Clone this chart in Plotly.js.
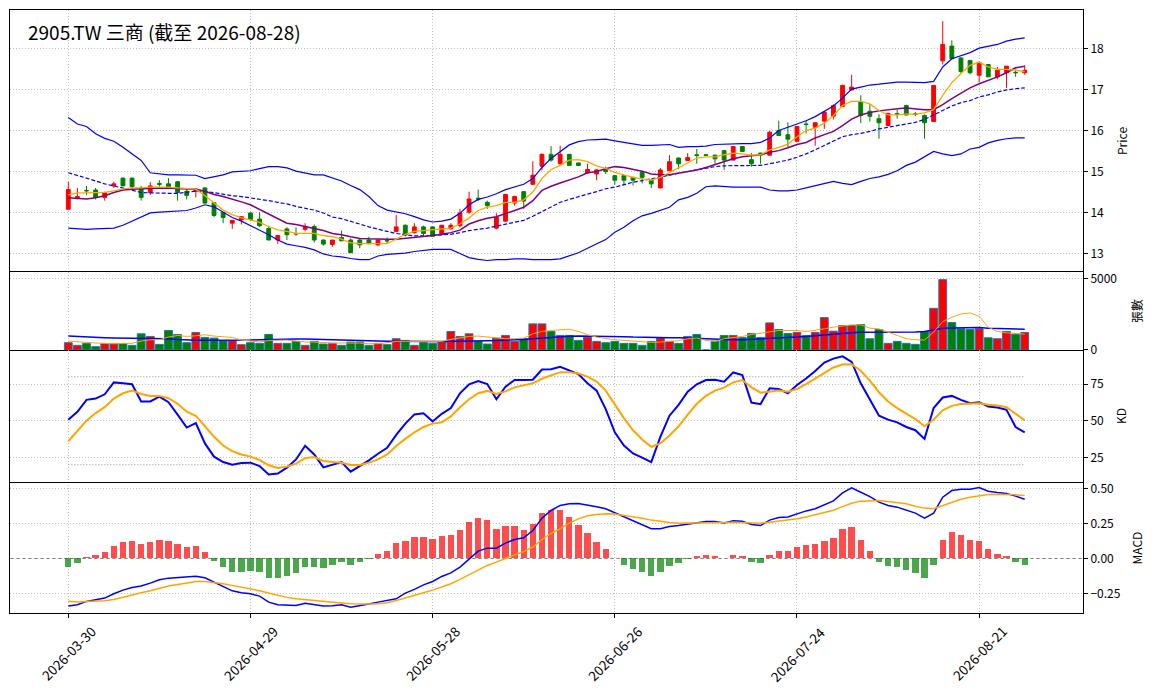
<!DOCTYPE html>
<html>
<head>
<meta charset="utf-8">
<script src="https://cdn.plot.ly/plotly-3.0.1.min.js"></script>
<style>
  html, body { margin: 0; padding: 0; background: #fff; }
  #chart { width: 1157px; height: 698px; }
</style>
</head>
<body>
<div id="chart"></div>
<script>
const TITLE = '2905.TW 三商 (截至 2026-08-28)';
const TICK_IDX = [0, 20, 40, 60, 80, 100];
const TICK_TEXT = ['2026-03-30', '2026-04-29', '2026-05-28', '2026-06-26', '2026-07-24', '2026-08-21'];
const PANEL_TITLES = ['Price', '張數', 'KD', 'MACD'];

// OHLC, one value per trading day
const OPEN = [14.09,14.37,14.55,14.56,14.38,14.66,14.85,14.85,14.61,14.50,14.72,14.71,14.76,14.53,14.53,14.61,14.25,14.01,13.75,13.83,
  14.00,13.85,13.62,13.34,13.61,13.50,13.60,13.67,13.34,13.23,13.40,13.34,13.34,13.34,13.22,13.33,13.55,13.70,13.52,13.66,
  13.66,13.48,13.61,13.69,14.02,14.36,14.26,13.63,13.80,14.24,14.52,14.70,15.14,15.43,15.20,15.43,15.22,14.98,14.95,15.07,
  14.91,14.91,14.87,14.99,14.80,14.61,15.03,15.34,15.28,15.42,15.42,15.41,15.52,15.29,15.62,15.30,15.46,15.41,16.01,15.91,
  15.75,16.17,16.09,16.24,16.36,16.60,17.00,16.71,16.48,16.30,16.13,16.42,16.62,16.42,16.38,16.23,17.71,18.07,17.78,17.72,
  17.36,17.62,17.32,17.42,17.43,17.42];
const HIGH = [14.76,14.61,14.66,14.61,14.52,14.76,14.86,14.86,14.66,14.76,14.80,14.85,14.78,14.58,14.60,14.62,14.26,14.02,13.83,13.92,
  14.01,14.02,13.69,13.45,13.65,13.65,13.75,13.72,13.35,13.34,13.57,13.38,13.36,13.42,13.34,13.40,13.95,13.72,13.75,13.69,
  13.67,13.70,13.75,14.10,14.52,14.57,14.30,13.99,14.47,14.42,14.53,15.26,15.45,15.63,15.64,15.44,15.23,15.20,15.07,15.13,
  14.93,14.92,14.88,15.00,14.81,15.10,15.41,15.35,15.46,15.56,15.43,15.42,15.53,15.63,15.63,15.46,15.47,16.00,16.25,16.21,
  16.12,16.25,16.21,16.47,16.65,17.13,17.37,16.87,16.66,16.41,16.44,16.52,16.64,16.46,16.40,17.11,18.68,18.21,17.80,17.73,
  17.67,17.63,17.56,17.58,17.50,17.60];
const LOW = [14.09,14.33,14.44,14.33,14.30,14.61,14.66,14.58,14.30,14.44,14.64,14.58,14.30,14.33,14.38,14.24,13.90,13.75,13.61,13.72,
  13.80,13.66,13.34,13.24,13.34,13.44,13.55,13.28,13.20,13.18,13.32,13.03,13.14,13.25,13.20,13.25,13.53,13.43,13.50,13.45,
  13.43,13.46,13.60,13.65,13.98,14.29,14.10,13.60,13.78,14.18,14.10,14.68,15.04,15.25,15.18,15.15,15.14,14.96,14.80,14.95,
  14.69,14.67,14.67,14.72,14.61,14.60,15.02,15.07,15.27,15.20,15.40,15.20,15.05,15.28,15.49,15.13,15.20,15.40,15.88,15.60,
  15.74,15.94,15.64,16.05,16.28,16.59,16.99,16.19,16.23,15.81,16.12,16.30,16.38,16.36,15.81,16.22,17.62,17.75,17.40,17.38,
  17.19,17.32,17.26,17.05,17.32,17.37];
const CLOSE = [14.57,14.40,14.54,14.38,14.50,14.71,14.66,14.64,14.38,14.66,14.70,14.61,14.50,14.43,14.58,14.24,13.94,13.89,13.82,13.91,
  13.84,13.69,13.34,13.45,13.47,13.49,13.67,13.34,13.24,13.34,13.32,13.03,13.22,13.25,13.34,13.32,13.66,13.46,13.66,13.50,
  13.43,13.70,13.70,14.00,14.34,14.34,14.18,13.89,14.45,14.40,14.29,14.92,15.43,15.29,15.43,15.16,15.16,15.06,15.05,15.01,
  14.80,14.80,14.80,14.87,14.71,15.05,15.25,15.20,15.35,15.40,15.41,15.32,15.29,15.62,15.50,15.20,15.41,15.97,15.89,15.80,
  16.11,16.16,16.20,16.46,16.62,17.11,17.07,16.38,16.36,16.20,16.43,16.41,16.39,16.41,16.20,17.11,18.11,17.76,17.45,17.42,
  17.67,17.32,17.48,17.58,17.42,17.48];

// price overlays
const MA5 = [14.44,14.49,14.49,14.50,14.50,14.54,14.59,14.61,14.61,14.63,14.63,14.63,14.61,14.60,14.58,14.42,14.24,14.07,13.96,13.88,
  13.83,13.77,13.67,13.59,13.55,13.50,13.50,13.50,13.45,13.42,13.36,13.27,13.25,13.25,13.25,13.25,13.36,13.48,13.55,13.57,
  13.58,13.60,13.63,13.73,13.88,14.06,14.14,14.18,14.26,14.26,14.32,14.51,14.84,15.06,15.16,15.29,15.30,15.25,15.15,15.09,
  14.99,14.93,14.87,14.83,14.80,14.87,14.99,15.11,15.24,15.34,15.37,15.37,15.42,15.46,15.44,15.41,15.42,15.54,15.60,15.68,
  15.86,16.01,16.07,16.19,16.37,16.62,16.72,16.72,16.66,16.50,16.39,16.39,16.41,16.41,16.44,16.52,16.87,17.18,17.40,17.60,
  17.68,17.56,17.50,17.50,17.48,17.45];
const MA10 = [14.37,14.35,14.34,14.37,14.42,14.50,14.56,14.58,14.59,14.60,14.61,14.60,14.59,14.58,14.58,14.53,14.45,14.40,14.34,14.27,
  14.20,14.09,13.98,13.86,13.75,13.72,13.67,13.61,13.57,13.50,13.47,13.42,13.38,13.37,13.36,13.36,13.36,13.38,13.40,13.43,
  13.45,13.48,13.52,13.58,13.73,13.81,13.87,13.91,13.98,14.06,14.14,14.30,14.55,14.65,14.73,14.80,14.88,14.98,15.01,15.08,
  15.13,15.11,15.07,15.02,14.95,14.93,14.93,14.97,15.00,15.05,15.11,15.18,15.26,15.32,15.37,15.39,15.42,15.48,15.52,15.59,
  15.67,15.72,15.83,15.91,15.99,16.13,16.29,16.39,16.45,16.49,16.52,16.54,16.56,16.54,16.52,16.52,16.64,16.79,16.93,17.05,
  17.15,17.23,17.32,17.42,17.54,17.58];
const BB_UP = [16.33,16.17,16.11,15.93,15.82,15.75,15.60,15.44,15.28,14.98,14.95,14.93,14.93,14.93,14.92,14.84,14.89,14.93,15.00,15.02,
  15.03,15.08,15.13,15.13,15.10,15.02,14.98,14.93,14.93,14.85,14.78,14.67,14.57,14.40,14.18,14.07,14.02,13.98,13.91,13.83,
  13.78,13.80,13.85,13.99,14.20,14.33,14.39,14.47,14.57,14.63,14.70,14.84,15.11,15.33,15.49,15.66,15.74,15.78,15.79,15.80,
  15.76,15.72,15.68,15.65,15.65,15.66,15.67,15.60,15.62,15.62,15.63,15.67,15.68,15.69,15.69,15.69,15.72,15.83,16.01,16.09,
  16.17,16.25,16.35,16.48,16.61,16.80,17.02,17.07,17.12,17.14,17.16,17.19,17.19,17.19,17.18,17.21,17.56,17.76,17.83,17.91,
  18.02,18.07,18.11,18.19,18.24,18.27];
const BB_MID = [14.98,14.92,14.85,14.78,14.71,14.66,14.61,14.56,14.50,14.49,14.48,14.48,14.48,14.50,14.53,14.53,14.49,14.46,14.42,14.40,
  14.37,14.33,14.30,14.26,14.22,14.16,14.12,14.07,14.00,13.90,13.86,13.80,13.73,13.66,13.60,13.55,13.50,13.47,13.44,13.44,
  13.45,13.46,13.48,13.52,13.57,13.60,13.63,13.68,13.73,13.78,13.82,13.92,14.04,14.15,14.26,14.33,14.40,14.46,14.52,14.59,
  14.63,14.69,14.75,14.79,14.83,14.88,14.92,14.97,15.01,15.05,15.10,15.13,15.15,15.15,15.15,15.15,15.16,15.20,15.24,15.29,
  15.36,15.44,15.54,15.64,15.76,15.86,15.91,15.94,15.99,16.05,16.09,16.13,16.17,16.21,16.28,16.39,16.50,16.61,16.69,16.74,
  16.83,16.88,16.95,17.00,17.03,17.05];
const BB_LOW = [13.63,13.62,13.60,13.61,13.62,13.63,13.70,13.80,13.89,14.00,14.02,14.03,14.05,14.06,14.12,14.20,14.15,14.02,13.89,13.80,
  13.69,13.59,13.47,13.34,13.24,13.20,13.16,13.10,13.00,12.95,12.93,12.89,12.86,12.86,12.95,12.99,13.01,13.02,13.06,13.09,
  13.11,13.11,13.11,13.01,12.91,12.87,12.84,12.86,12.86,12.88,12.88,12.86,12.86,12.86,12.88,12.95,13.03,13.14,13.24,13.35,
  13.53,13.65,13.81,13.93,13.99,14.06,14.14,14.32,14.38,14.48,14.64,14.66,14.64,14.63,14.63,14.63,14.63,14.56,14.54,14.54,
  14.56,14.61,14.66,14.71,14.77,14.72,14.69,14.77,14.84,14.88,14.94,15.03,15.16,15.24,15.36,15.50,15.44,15.40,15.44,15.56,
  15.60,15.71,15.77,15.81,15.83,15.83];

// volume (張) and its averages
const VOL = [512,326,465,233,442,442,442,326,1140,953,395,1372,1093,512,1233,884,837,651,651,372,
  512,465,1093,465,465,605,326,605,419,465,326,558,558,326,465,372,791,674,326,512,
  465,558,1302,953,1140,605,419,837,1023,605,791,1837,1837,1302,1023,1023,674,907,605,512,
  605,465,465,326,605,860,605,465,953,1093,0,628,1023,1023,884,1163,884,1907,1442,1163,
  1233,1023,1233,2279,1326,1721,1721,1791,791,1442,465,605,465,395,1302,2930,4953,1930,1488,1442,
  1488,860,791,1302,1116,1233];
const VOL_MA5 = [628,605,535,488,442,442,465,465,628,721,721,907,1023,953,1000,1070,977,907,884,698,
  605,558,674,674,698,628,558,558,512,488,488,512,488,442,442,512,605,605,605,558,
  558,605,744,837,953,977,907,837,791,791,837,1140,1302,1372,1419,1465,1302,1070,907,791,
  721,674,628,558,535,558,605,651,791,837,674,605,791,860,953,1093,1186,1302,1372,1372,
  1372,1302,1372,1488,1605,1674,1767,1767,1535,1488,1256,977,791,721,698,1256,2000,2302,2535,2605,
  2372,1605,1302,1209,1140,1116];
const VOL_MA20 = [977,940,907,880,860,845,837,837,837,837,814,791,744,698,690,680,674,674,680,690,
  698,720,744,755,767,767,767,744,721,698,674,660,651,640,628,615,605,593,581,593,
  605,605,605,615,628,640,651,662,674,710,744,790,837,884,953,965,977,977,977,977,
  960,930,905,884,877,870,865,860,830,800,767,745,721,721,721,745,767,790,814,860,
  907,950,977,1050,1110,1186,1220,1256,1256,1256,1256,1245,1233,1260,1302,1420,1535,1545,1558,1570,
  1581,1535,1510,1488,1475,1465];

// KD
const K = [50.7,56.1,64.2,65.1,68.0,76.1,75.5,74.8,63.1,63.1,66.4,62.6,54.1,45.3,48.4,34.5,25.5,21.8,20.0,21.2,
  21.4,19.1,13.3,14.0,18.0,23.6,32.9,27.0,18.2,19.8,21.8,15.3,19.1,23.0,27.5,31.5,40.3,48.0,54.3,55.0,
  49.5,54.7,58.6,68.7,74.8,77.0,75.0,64.6,73.2,77.7,77.7,77.9,84.9,85.1,86.7,84.0,81.8,75.5,70.5,57.9,
  42.1,33.1,27.7,24.8,21.8,39.0,53.4,60.8,69.8,74.8,77.7,77.9,76.6,82.9,81.1,62.4,61.3,72.1,71.6,68.7,
  74.3,78.8,83.8,89.6,92.3,93.9,90.1,75.5,64.2,53.4,50.7,48.9,45.7,43.5,37.6,58.6,65.8,66.9,64.2,61.9,
  62.6,59.7,59.0,57.4,45.7,42.1];
const D = [36.0,42.8,50.0,55.2,59.2,65.1,68.7,70.5,68.2,66.9,66.9,65.3,61.5,56.1,53.4,46.2,39.0,33.1,29.3,27.0,
  25.5,23.2,19.6,17.8,18.7,20.7,24.5,25.2,22.5,21.8,21.4,19.8,19.8,21.4,23.6,27.0,32.7,37.6,42.1,45.7,
  48.0,48.9,52.9,59.2,64.6,68.7,70.3,68.2,70.0,72.7,74.3,75.5,78.6,81.1,83.1,83.1,82.2,80.0,76.6,70.5,
  60.8,51.8,43.5,37.2,32.2,34.5,39.9,46.2,54.1,61.5,66.9,70.5,72.5,76.1,77.7,72.7,69.1,69.8,70.5,69.8,
  71.6,75.0,78.8,82.7,86.3,88.3,88.5,84.0,77.3,69.4,63.1,58.6,54.7,51.1,46.2,50.7,57.0,60.1,61.3,61.5,
  61.9,60.8,60.4,59.2,54.7,50.2];
const KD_LEVELS = [20, 80];

// MACD
const DIF = [-0.341,-0.332,-0.308,-0.298,-0.284,-0.253,-0.227,-0.208,-0.198,-0.177,-0.153,-0.141,-0.136,-0.136,-0.127,-0.138,-0.170,-0.205,-0.232,-0.246,
  -0.253,-0.270,-0.313,-0.332,-0.337,-0.337,-0.322,-0.332,-0.341,-0.339,-0.332,-0.349,-0.339,-0.327,-0.313,-0.303,-0.289,-0.248,-0.222,-0.189,
  -0.165,-0.129,-0.103,-0.062,-0.002,0.053,0.074,0.074,0.110,0.136,0.148,0.200,0.289,0.344,0.380,0.392,0.394,0.384,0.370,0.356,
  0.327,0.298,0.272,0.241,0.213,0.213,0.229,0.236,0.246,0.260,0.265,0.265,0.255,0.270,0.267,0.244,0.236,0.275,0.294,0.298,
  0.320,0.341,0.356,0.384,0.413,0.470,0.506,0.475,0.444,0.404,0.380,0.368,0.346,0.325,0.289,0.325,0.439,0.487,0.497,0.497,
  0.509,0.482,0.473,0.466,0.447,0.425];
const DEA = [-0.306,-0.313,-0.308,-0.308,-0.303,-0.294,-0.277,-0.260,-0.246,-0.232,-0.213,-0.198,-0.186,-0.174,-0.165,-0.165,-0.172,-0.181,-0.193,-0.205,
  -0.217,-0.232,-0.248,-0.265,-0.279,-0.289,-0.296,-0.303,-0.310,-0.315,-0.320,-0.325,-0.327,-0.327,-0.325,-0.318,-0.301,-0.284,-0.265,-0.246,
  -0.227,-0.203,-0.181,-0.150,-0.117,-0.079,-0.050,-0.026,0.002,0.026,0.050,0.081,0.136,0.179,0.213,0.253,0.284,0.306,0.315,0.320,
  0.318,0.310,0.301,0.289,0.275,0.265,0.258,0.253,0.253,0.255,0.255,0.258,0.258,0.260,0.258,0.253,0.253,0.260,0.267,0.275,
  0.284,0.298,0.313,0.327,0.346,0.372,0.396,0.411,0.415,0.415,0.408,0.401,0.392,0.375,0.361,0.356,0.380,0.404,0.425,0.439,
  0.451,0.458,0.461,0.461,0.456,0.451];
const OSC = [-0.060,-0.031,0.010,0.026,0.045,0.091,0.117,0.124,0.103,0.117,0.131,0.124,0.103,0.081,0.091,0.045,-0.017,-0.060,-0.096,-0.096,
  -0.088,-0.096,-0.138,-0.138,-0.124,-0.103,-0.060,-0.060,-0.067,-0.045,-0.024,-0.045,-0.024,-0.003,0.031,0.053,0.110,0.124,0.153,0.153,
  0.138,0.160,0.167,0.203,0.260,0.289,0.275,0.210,0.232,0.232,0.203,0.246,0.325,0.344,0.346,0.296,0.239,0.181,0.117,0.067,
  0.002,-0.045,-0.074,-0.096,-0.124,-0.096,-0.053,-0.031,-0.002,0.017,0.024,0.017,0.002,0.024,0.017,-0.024,-0.031,0.024,0.053,0.053,
  0.081,0.096,0.103,0.124,0.146,0.210,0.224,0.131,0.053,-0.024,-0.053,-0.060,-0.081,-0.103,-0.138,-0.045,0.131,0.189,0.167,0.131,
  0.124,0.067,0.031,0.017,-0.024,-0.045];

const UP = '#ff0000', DOWN = '#008000';
const FONT = '"Noto Sans CJK TC", "Noto Sans", sans-serif';
const idx = CLOSE.map((_, i) => i);
const last = idx.length - 1;

// panel domains (paper fraction, bottom to top): MACD, KD, volume, price
const DOM = { macd: [0, 0.2172], kd: [0.2172, 0.4362], vol: [0.4362, 0.5655], price: [0.5655, 1] };

const line = (y, color, width, xa, ya, dash) => ({
  x: idx, y, type: 'scatter', mode: 'lines', xaxis: xa, yaxis: ya, hoverinfo: 'skip',
  line: { color, width, dash: dash || 'solid' },
});

const traces = [
  line(BB_UP, '#0000ff', 1.2, 'x2', 'y'),
  line(BB_LOW, '#0000ff', 1.2, 'x2', 'y'),
  line(BB_MID, '#0000ff', 1.2, 'x2', 'y', '4px,2px'),
  line(MA10, '#800080', 1.5, 'x2', 'y'),
  line(MA5, '#ffa500', 1.3, 'x2', 'y'),
  {
    type: 'candlestick', x: idx, open: OPEN, high: HIGH, low: LOW, close: CLOSE,
    xaxis: 'x2', yaxis: 'y', whiskerwidth: 0,
    increasing: { line: { color: UP, width: 1 }, fillcolor: UP },
    decreasing: { line: { color: DOWN, width: 1 }, fillcolor: DOWN },
  },
  {
    type: 'bar', x: idx, y: VOL, xaxis: 'x3', yaxis: 'y2', width: 0.86,
    marker: { color: idx.map((i) => (CLOSE[i] >= OPEN[i] ? UP : DOWN)), line: { color: '#1f77b4', width: 1 } },
  },
  line(VOL_MA20, '#0000ff', 1.5, 'x3', 'y2'),
  line(VOL_MA5, '#ffa500', 1, 'x3', 'y2'),
  line(K, '#0000ff', 2, 'x4', 'y3'),
  line(D, '#ffa500', 2, 'x4', 'y3'),
  {
    type: 'bar', x: idx, y: OSC, xaxis: 'x', yaxis: 'y4', width: 0.7,
    marker: { color: OSC.map((v) => (v >= 0 ? 'rgba(255,0,0,0.7)' : 'rgba(0,128,0,0.7)')) },
  },
  line(DIF, '#0000ff', 1.5, 'x', 'y4'),
  line(DEA, '#ffa500', 1.5, 'x', 'y4'),
];

const grid = { showgrid: true, gridcolor: '#b0b0b0', griddash: '1px,2px', gridwidth: 0.8 };
const edge = { linecolor: '#000', linewidth: 1, zeroline: false };
const xBase = {
  ...grid, ...edge, range: [-6.4, 111.4], tickvals: TICK_IDX, ticktext: TICK_TEXT,
  showticklabels: false, fixedrange: true,
};
const yBase = (domain, range, extra) => ({
  ...grid, ...edge, showline: true, mirror: true, domain, range, side: 'right',
  ticks: 'outside', ticklen: 4, tickcolor: '#000',
  tickfont: { size: 12, color: '#000' }, fixedrange: true, ...extra,
});

const mid = (d) => (d[0] + d[1]) / 2;
const titlePos = [
  [1.0354, mid(DOM.price)], [1.0503, mid(DOM.vol)], [1.0354, mid(DOM.kd)], [1.0503, mid(DOM.macd)],
];

const layout = {
  width: 1157, height: 698,
  margin: { l: 10, r: 74, t: 10, b: 85 },
  paper_bgcolor: '#fff', plot_bgcolor: '#fff',
  font: { family: FONT, color: '#000', size: 12 },
  showlegend: false, boxgap: 0.4, bargap: 0,
  // bottom panel: bottom frame line + ticks
  xaxis: { ...xBase, anchor: 'y4', showline: true, ticks: 'outside', ticklen: 4, tickcolor: '#000' },
  // price panel: top frame line
  xaxis2: { ...xBase, anchor: 'y', side: 'top', showline: true, matches: 'x', rangeslider: { visible: false } },
  // volume panel: lines above and below
  xaxis3: { ...xBase, anchor: 'y2', showline: true, mirror: true, matches: 'x' },
  // KD panel: line below
  xaxis4: { ...xBase, anchor: 'y3', showline: true, matches: 'x' },
  yaxis: yBase(DOM.price, [12.56, 18.95], { anchor: 'x2', tickvals: [13, 14, 15, 16, 17, 18] }),
  yaxis2: yBase(DOM.vol, [0, 5490], { anchor: 'x3', tickvals: [0, 5000], tickformat: 'd' }),
  yaxis3: yBase(DOM.kd, [8.2, 98.2], { anchor: 'x4', tickvals: [25, 50, 75] }),
  yaxis4: yBase(DOM.macd, [-0.391, 0.548], { anchor: 'x', tickvals: [-0.25, 0, 0.25, 0.5], tickformat: '.2f' }),
  shapes: [
    ...KD_LEVELS.map((v) => ({
      type: 'line', xref: 'x4', yref: 'y3', x0: 0, x1: last, y0: v, y1: v,
      line: { color: '#999', width: 1, dash: '1px,2px' }, layer: 'below',
    })),
    {
      type: 'line', xref: 'x domain', yref: 'y4', x0: 0, x1: 1, y0: 0, y1: 0,
      line: { color: '#808080', width: 1, dash: '4px,2px' }, layer: 'below',
    },
  ],
  annotations: [
    {
      text: TITLE, xref: 'paper', yref: 'paper', x: 0.0149, y: 0.965,
      xanchor: 'left', yanchor: 'middle', showarrow: false,
      font: { size: 19, color: '#000', family: FONT },
    },
    // date labels, rotated and centred under each tick
    ...TICK_IDX.map((t, i) => ({
      text: TICK_TEXT[i], xref: 'x', yref: 'paper', x: t, y: -0.01,
      xanchor: 'center', yanchor: 'top', textangle: -45, showarrow: false,
      font: { size: 13.5, color: '#000', family: FONT },
    })),
    ...PANEL_TITLES.map((t, i) => ({
      text: t, xref: 'paper', yref: 'paper', x: titlePos[i][0], y: titlePos[i][1],
      xanchor: 'center', yanchor: 'middle', textangle: -90, showarrow: false,
      font: { size: 12, color: '#000', family: FONT },
    })),
  ],
};

Plotly.newPlot('chart', traces, layout, { staticPlot: true, displayModeBar: false });
</script>
</body>
</html>
